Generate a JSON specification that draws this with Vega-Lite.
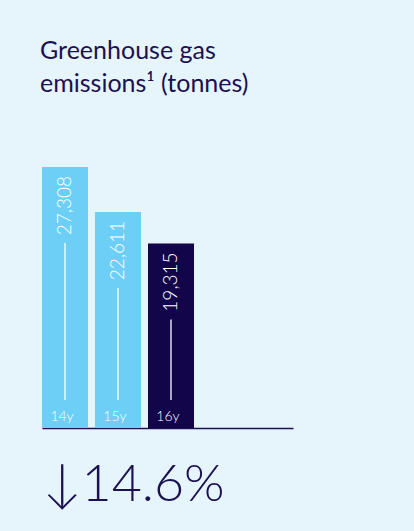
{
  "$schema": "https://vega.github.io/schema/vega-lite/v6.json",
  "autosize": {"type": "none"},
  "width": 251,
  "height": 261,
  "padding": {"left": 42, "top": 167, "right": 121, "bottom": 103},
  "background": "#E6F4FC",
  "config": {"view": {"stroke": null}, "font": "Lato"},
  "title": {
    "text": ["Greenhouse gas", "emissions¹ (tonnes)"],
    "anchor": "start",
    "frame": "group",
    "baseline": "bottom",
    "offset": 45,
    "dx": -2,
    "fontSize": 25,
    "fontWeight": "normal",
    "lineHeight": 33,
    "color": "#1B1150",
    "font": "Lato"
  },
  "data": {
    "values": [
      {"year": "14y", "value": 27308},
      {"year": "15y", "value": 22611},
      {"year": "16y", "value": 19315}
    ]
  },
  "encoding": {
    "x": {
      "field": "year",
      "type": "nominal",
      "sort": null,
      "scale": {"domain": ["14y", "15y", "16y"], "paddingInner": 0.132, "paddingOuter": 0.934, "align": 0},
      "axis": {
        "labels": false,
        "ticks": false,
        "domain": true,
        "domainColor": "#1B1150",
        "domainWidth": 1.5,
        "title": "↓14.6%",
        "titleX": 0,
        "titleY": 72,
        "titleAlign": "left",
        "titleBaseline": "alphabetic",
        "titleFontSize": 52,
        "titleFontWeight": 300,
        "titleColor": "#1B1150",
        "titleFont": "Lato"
      }
    }
  },
  "layer": [
    {
      "mark": {"type": "bar"},
      "encoding": {
        "y": {"field": "value", "type": "quantitative", "scale": {"domain": [0, 27308], "nice": false}, "axis": null},
        "color": {
          "field": "year",
          "type": "nominal",
          "scale": {"domain": ["14y", "15y", "16y"], "range": ["#6DCFF6", "#6DCFF6", "#13054A"]},
          "legend": null
        }
      }
    },
    {
      "mark": {"type": "rule", "color": "white", "strokeWidth": 1.3, "yOffset": 76, "y2Offset": -28},
      "encoding": {
        "y": {"field": "value", "type": "quantitative"},
        "y2": {"datum": 0}
      }
    },
    {
      "mark": {"type": "text", "angle": 270, "align": "right", "baseline": "middle", "yOffset": 9, "fontSize": 19, "fontWeight": 300, "color": "white", "font": "Lato"},
      "encoding": {
        "y": {"field": "value", "type": "quantitative"},
        "text": {"field": "value", "type": "quantitative", "format": ","}
      }
    },
    {
      "mark": {"type": "text", "baseline": "alphabetic", "yOffset": -7, "dx": -3, "fontSize": 14, "fontWeight": 300, "color": "white", "font": "Lato"},
      "encoding": {
        "y": {"datum": 0, "type": "quantitative"},
        "text": {"field": "year", "type": "nominal"}
      }
    }
  ]
}
